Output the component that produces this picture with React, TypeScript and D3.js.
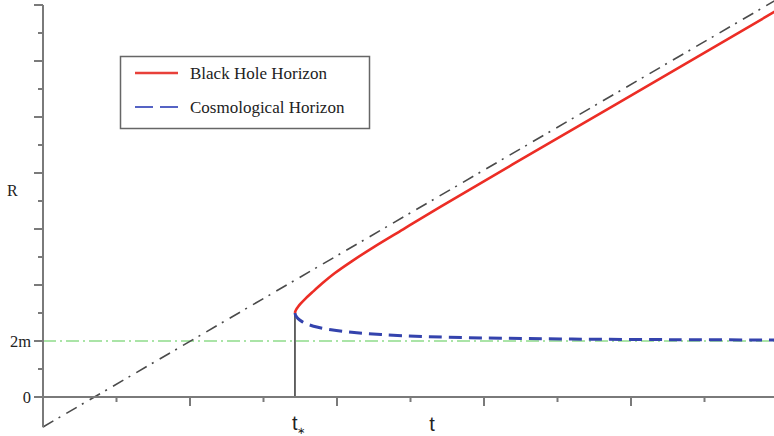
import React from 'react'
import * as d3 from 'd3'

// asymptote R = a + b t (dash-dot)
const guideT = [0, 4.98]
const guideR = [-0.535, 7.08]

// R = 2m level
const levelR = 1

const tStar = 1.714
const rStar = 1.5

const redT = [1.714, 1.716, 1.722, 1.734, 1.754, 1.784, 1.83, 1.9, 1.986, 2.1, 2.25, 2.45, 2.7, 3.2, 3.9, 4.98]
const redR = [1.5, 1.527, 1.561, 1.607, 1.671, 1.753, 1.865, 2.03, 2.214, 2.423, 2.677, 2.995, 3.391, 4.161, 5.232, 6.884]

const blueT = [1.714, 1.72, 1.735, 1.76, 1.8, 1.87, 1.96, 2.1, 2.3, 2.6, 3.0, 3.6, 4.3, 4.98]
const blueR = [1.5, 1.45, 1.4, 1.35, 1.3, 1.245, 1.2, 1.155, 1.115, 1.08, 1.055, 1.035, 1.024, 1.018]

const yMajor = [0, 1, 2, 3, 4, 5, 6, 7]
const yMinor = [0.5, 1.5, 2.5, 3.5, 4.5, 5.5, 6.5]
const xMajor = [1, 2, 3, 4, 5]
const xMinor = [0.5, 1.5, 2.5, 3.5, 4.5]
const yLabels = [{ v: 0, text: '0' }, { v: 1, text: '2m' }]

const W = 774
const H = 436

const App = () => {
  const x = d3.scaleLinear().domain([0, 5]).range([43, 778])
  const y = d3.scaleLinear().domain([0, 7]).range([397, 5])

  const line = d3.line<[number, number]>()
    .x(d => x(d[0]))
    .y(d => y(d[1]))

  const redPts = redT.map((t, i) => [t, redR[i]] as [number, number])
  const bluePts = blueT.map((t, i) => [t, blueR[i]] as [number, number])
  const guidePts = guideT.map((t, i) => [t, guideR[i]] as [number, number])

  const axisColor = '#7a7a7a'
  const serif = '"Liberation Serif", "Times New Roman", serif'
  const sans = '"Liberation Sans", Arial, sans-serif'

  return (
    <svg width={W} height={H} style={{ position: 'absolute', left: 0, top: 0, background: '#fff' }}>
      {/* green 2m level */}
      <line x1={x(0)} x2={W} y1={y(levelR)} y2={y(levelR)}
        stroke="#8fdc8a" strokeWidth={1.5} strokeDasharray="13,4,2,4" />

      {/* asymptote */}
      <path d={line.curve(d3.curveLinear)(guidePts) || ''} fill="none"
        stroke="#4a4a4a" strokeWidth={1.6} strokeDasharray="12,6,2,7" />

      {/* vertical at t* */}
      <line x1={x(tStar)} x2={x(tStar)} y1={y(0)} y2={y(rStar)} stroke="#333" strokeWidth={1.5} />

      {/* curves */}
      <path d={line.curve(d3.curveCatmullRom)(bluePts) || ''} fill="none"
        stroke="#3443ad" strokeWidth={3} strokeDasharray="13,7" />
      <path d={line.curve(d3.curveCatmullRom)(redPts) || ''} fill="none"
        stroke="#ec2d25" strokeWidth={2.6} />

      {/* y axis */}
      <line x1={x(0)} x2={x(0)} y1={y(7)} y2={y(-0.54)} stroke={axisColor} strokeWidth={2} />
      {yMajor.map(v => (
        <line key={'ym' + v} x1={x(0) - 9} x2={x(0)} y1={y(v)} y2={y(v)} stroke={axisColor} strokeWidth={2} />
      ))}
      {yMinor.map(v => (
        <line key={'yn' + v} x1={x(0) - 5} x2={x(0)} y1={y(v)} y2={y(v)} stroke={axisColor} strokeWidth={2} />
      ))}

      {/* x axis */}
      <line x1={x(0) - 9} x2={W} y1={y(0)} y2={y(0)} stroke={axisColor} strokeWidth={2} />
      {xMajor.map(v => (
        <line key={'xm' + v} x1={x(v)} x2={x(v)} y1={y(0)} y2={y(0) + 9} stroke={axisColor} strokeWidth={2} />
      ))}
      {xMinor.map(v => (
        <line key={'xn' + v} x1={x(v)} x2={x(v)} y1={y(0)} y2={y(0) + 5} stroke={axisColor} strokeWidth={2} />
      ))}

      {/* y labels */}
      {yLabels.map(l => (
        <text key={l.text} x={31} y={y(l.v)} dy="0.35em" textAnchor="end"
          fontFamily={serif} fontSize={16.5} fill="#222">{l.text}</text>
      ))}
      <text x={7} y={190} dy="0.35em" fontFamily={serif} fontSize={16} fill="#222">R</text>

      {/* x labels */}
      <text x={x(tStar) - 3} y={430} fontFamily={sans} fontSize={20} fill="#222">
        t<tspan fontSize={10} dx={-1} dy={4}>∗</tspan>
      </text>
      <text x={432} y={431} textAnchor="middle" fontFamily={sans} fontSize={20} fill="#222">t</text>

      {/* legend */}
      <rect x={120.5} y={56.5} width={249} height={72} fill="#fff" stroke="#666" strokeWidth={1.5} />
      <line x1={135} x2={178} y1={73} y2={73} stroke="#e8403a" strokeWidth={2.5} />
      <text x={190} y={79} fontFamily={serif} fontSize={17} fill="#222">Black Hole Horizon</text>
      <line x1={135} x2={178} y1={107} y2={107} stroke="#5563c4" strokeWidth={2.2} strokeDasharray="18,7" />
      <text x={190} y={113} fontFamily={serif} fontSize={17} fill="#222">Cosmological Horizon</text>
    </svg>
  )
}

export default App
